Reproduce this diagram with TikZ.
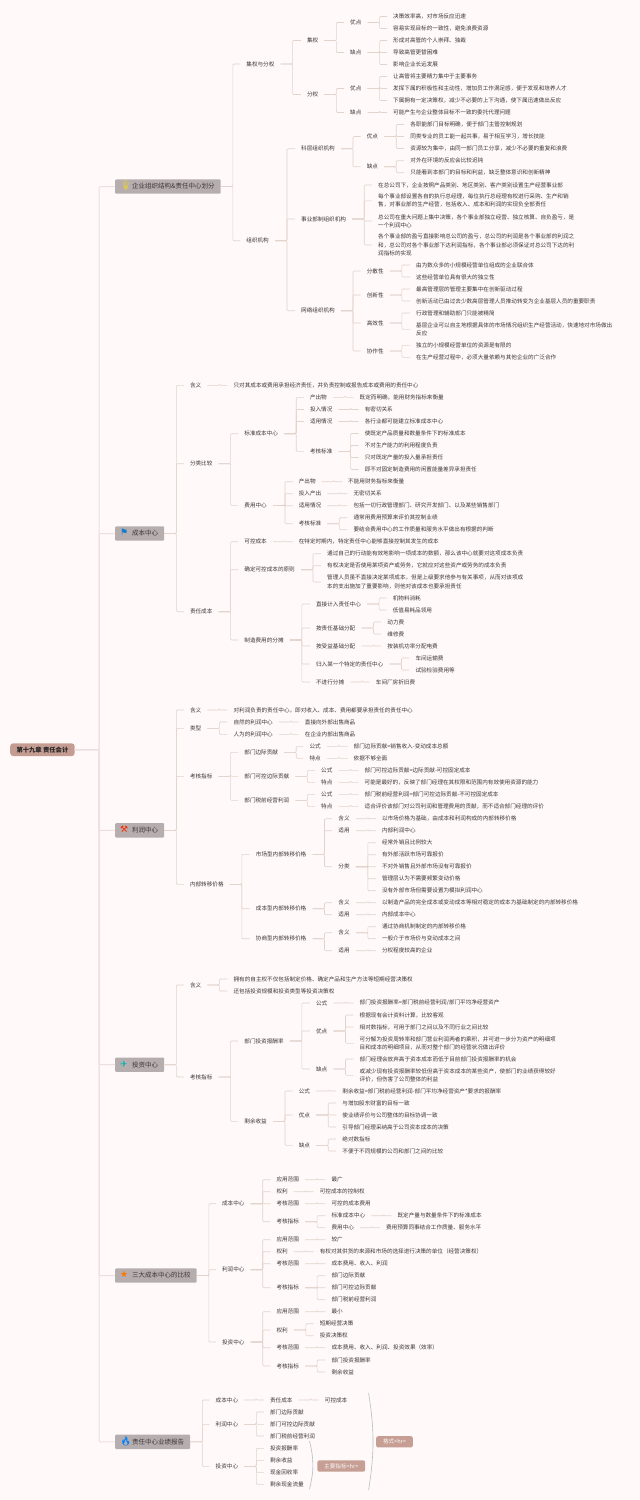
\documentclass[tikz,border=0pt]{standalone}
\usepackage{fontspec}
\setmainfont{Noto Sans CJK SC}
\newfontfamily\emojifont{Noto Emoji}
\newfontfamily\symfont{DejaVu Sans}
\definecolor{pagebg}{HTML}{FFF9FA}
\definecolor{inktext}{HTML}{3C3636}
\definecolor{linkline}{HTML}{E2D3CB}
\definecolor{rootline}{HTML}{EEDFDF}
\definecolor{branchfill}{HTML}{B6AEAE}
\definecolor{rootfill}{HTML}{C49C92}
\definecolor{tagfill}{HTML}{C69E94}
\definecolor{braceline}{HTML}{B4C0BC}
\tikzset{
  x=1pt,y=-1pt,
  item/.style={anchor=west,align=left,xshift=-6pt,inner xsep=6pt,inner ysep=0.5pt,text=inktext,font=\fontsize{5.6}{8.2}\selectfont},
  branch/.style={anchor=west,fill=branchfill,rounded corners=1pt,minimum height=14.4pt,inner xsep=6pt,inner ysep=0pt,text=inktext,font=\fontsize{6.5}{8}\selectfont},
  rootbox/.style={anchor=west,fill=rootfill,rounded corners=3pt,minimum height=12.8pt,inner xsep=6.3pt,inner ysep=0pt,text=black!85,font=\fontsize{6.3}{8}\selectfont\bfseries},
  tagbox/.style={anchor=west,fill=tagfill,rounded corners=2pt,minimum height=11.3pt,inner xsep=6.8pt,inner ysep=0pt,text=white!92!tagfill,font=\fontsize{5.6}{8}\selectfont},
  link/.style={draw=linkline,line width=0.6pt,rounded corners=1pt},
  rootlink/.style={draw=rootline,line width=1pt,rounded corners=1pt},
  summary/.style={draw=braceline,line width=0.6pt},
}
\newcommand{\lnk}[3][12]{\foreach \kid in {#3}{\draw[link] (#2.east) -- ++(#1,0) |- (\kid.west);}}
\newcommand{\icon}[2]{\makebox[11pt][l]{\smash{\hspace{-1pt}\color{#1}\fontsize{9}{9}\selectfont #2}}}

\begin{document}
\begin{tikzpicture}
  \fill[pagebg] (0,0) rectangle (640,1500);
  \node[rootbox] at (10,749.7) (root) {第十九章 责任会计};

  % organisation
  \node[branch] at (115,186.5) (ba) {\icon{yellow!80!orange}{\emojifont\symbol{"1F4A1}}企业组织结构\&责任中心划分};
  \node[item] at (246.2,64) (jfq) {集权与分权};
  \node[item] at (306.8,40.5) (jq) {集权};
  \node[item] at (306.8,94.5) (fq) {分权};
  \node[item] at (350,22.5) (jqy) {优点};
  \node[item] at (350,52.5) (jqq) {缺点};
  \node[item] at (393,16.5) (jqy1) {决策效率高，对市场反应迅速};
  \node[item] at (393,28.5) (jqy2) {容易实现目标的一致性，避免浪费资源};
  \node[item] at (393,40.5) (jqq1) {形成对高管的个人崇拜、独裁};
  \node[item] at (393,52.5) (jqq2) {导致高管更替困难};
  \node[item] at (393,64.5) (jqq3) {影响企业长远发展};
  \node[item] at (350,88.5) (fqy) {优点};
  \node[item] at (350,112.5) (fqq) {缺点};
  \node[item] at (393,76.5) (fqy1) {让高管将主要精力集中于主要事务};
  \node[item] at (393,88.5) (fqy2) {发挥下属的积极性和主动性，增加员工作满足感，便于发现和培养人才};
  \node[item] at (393,100.5) (fqy3) {下属拥有一定决策权，减少不必要的上下沟通，使下属迅速做出反应};
  \node[item] at (393,112.5) (fqq1) {可能产生与企业整体目标不一致的委托代理问题};
  \node[item] at (246.2,240.7) (org) {组织机构};
  \node[item] at (301,148.7) (kc) {科层组织机构};
  \node[item] at (366.6,136.5) (kcy) {优点};
  \node[item] at (366.6,166.7) (kcq) {缺点};
  \node[item] at (410.2,124.5) (kcy1) {各职能部门目标明确，便于部门主管控制规划};
  \node[item] at (410.2,136.5) (kcy2) {同类专业的员工能一起共事，易于相互学习，增长技能};
  \node[item] at (410.2,148.5) (kcy3) {资源较为集中，由同一部门员工分享，减少不必要的重复和浪费};
  \node[item] at (410.2,160.7) (kcq1) {对外在环境的反应会比较迟钝};
  \node[item] at (410.2,172.7) (kcq2) {只能看到本部门的目标和利益，缺乏整体意识和创新精神};
  \node[item] at (301,219) (sy) {事业部制组织机构};
  \node[item] at (378,185) (sy1) {在总公司下，企业按照产品类别、地区类别、客户类别设置生产经营事业部};
  \node[item] at (378,200.8) (sy2) {每个事业部设置各自的执行总经理，每位执行总经理有权进行采购、生产和销\\售，对事业部的生产经营，包括收入、成本和利润的实现负全部责任};
  \node[item] at (378,221) (sy3) {总公司在重大问题上集中决策，各个事业部独立经营、独立核算、自负盈亏，是\\一个利润中心};
  \node[item] at (378,245) (sy4) {各个事业部的盈亏直接影响总公司的盈亏，总公司的利润是各个事业部的利润之\\和，总公司对各个事业部下达利润指标，各个事业部必须保证对总公司下达的利\\润指标的实现};
  \node[item] at (301,310.7) (wl) {网络组织机构};
  \node[item] at (366.6,271) (wlf) {分散性};
  \node[item] at (366.6,295) (wlc) {创新性};
  \node[item] at (366.6,323) (wlg) {高效性};
  \node[item] at (366.6,351) (wlx) {协作性};
  \node[item] at (416,265) (wlf1) {由为数众多的小规模经营单位组成的企业联合体};
  \node[item] at (416,277) (wlf2) {这些经营单位具有很大的独立性};
  \node[item] at (416,289) (wlc1) {最高管理层的管理主要集中在创新驱动过程};
  \node[item] at (416,301) (wlc2) {创新活动已由过去少数高层管理人员推动转变为企业基层人员的重要职责};
  \node[item] at (416,313) (wlg1) {行政管理和辅助部门只能被精简};
  \node[item] at (416,329.3) (wlg2) {基层企业可以自主地根据具体的市场情况组织生产经营活动，快速地对市场做出\\反应};
  \node[item] at (416,345.3) (wlx1) {独立的小规模经营单位的资源是有限的};
  \node[item] at (416,357.3) (wlx2) {在生产经营过程中，必须大量依赖与其他企业的广泛合作};
  \lnk{ba}{jfq,org}
  \lnk{jfq}{jq,fq}
  \lnk{jq}{jqy,jqq}
  \lnk{jqy}{jqy1,jqy2}
  \lnk{jqq}{jqq1,jqq2,jqq3}
  \lnk{fq}{fqy,fqq}
  \lnk{fqy}{fqy1,fqy2,fqy3}
  \lnk{fqq}{fqq1}
  \lnk{org}{kc,sy,wl}
  \lnk{kc}{kcy,kcq}
  \lnk{kcy}{kcy1,kcy2,kcy3}
  \lnk{kcq}{kcq1,kcq2}
  \lnk{sy}{sy1,sy2,sy3,sy4}
  \lnk{wl}{wlf,wlc,wlg,wlx}
  \lnk{wlf}{wlf1,wlf2}
  \lnk{wlc}{wlc1,wlc2}
  \lnk{wlg}{wlg1,wlg2}
  \lnk{wlx}{wlx1,wlx2}

  % cost centre
  \node[branch] at (115,533.5) (bb) {\icon{cyan!60!blue}{\symfont\symbol{"2691}}成本中心};
  \node[item] at (189.8,385.3) (bhy) {含义};
  \node[item] at (233.4,385.3) (bhy1) {只对其成本或费用承担经济责任，并负责控制或报告成本或费用的责任中心};
  \node[item] at (189.8,463.7) (bfl) {分类比较};
  \node[item] at (244.2,433.7) (bz) {标准成本中心};
  \node[item] at (309.8,397.3) (bz1) {产出物};
  \node[item] at (359.5,397.3) (bz1a) {既定而明确，能用财务指标来衡量};
  \node[item] at (309.8,409.5) (bz2) {投入情况};
  \node[item] at (364.6,409.5) (bz2a) {有密切关系};
  \node[item] at (309.8,421.5) (bz3) {适用情况};
  \node[item] at (364.6,421.5) (bz3a) {各行业都可能建立标准成本中心};
  \node[item] at (309.8,451.3) (bz4) {考核标准};
  \node[item] at (364.6,433.5) (bz4a) {使既定产品质量和数量条件下的标准成本};
  \node[item] at (364.6,445.5) (bz4b) {不对生产能力的利用程度负责};
  \node[item] at (364.6,457.5) (bz4c) {只对既定产量的投入量承担责任};
  \node[item] at (364.6,469.5) (bz4d) {即不对固定制造费用的闲置能量差异承担责任};
  \node[item] at (244.2,505.3) (fy) {费用中心};
  \node[item] at (298.6,481.7) (fy1) {产出物};
  \node[item] at (348,481.7) (fy1a) {不能用财务指标来衡量};
  \node[item] at (298.6,493.7) (fy2) {投入产出};
  \node[item] at (353.4,493.7) (fy2a) {无密切关系};
  \node[item] at (298.6,505.7) (fy3) {适用情况};
  \node[item] at (353.4,505.7) (fy3a) {包括一切行政管理部门、研究开发部门、以及某些销售部门};
  \node[item] at (298.6,523.7) (fy4) {考核标准};
  \node[item] at (353.4,517.7) (fy4a) {通常用费用预算来评价其控制业绩};
  \node[item] at (353.4,529.7) (fy4b) {要结合费用中心的工作质量和服务水平做出有根据的判断};
  \node[item] at (189.8,611.7) (bzr) {责任成本};
  \node[item] at (244.2,541.7) (kk) {可控成本};
  \node[item] at (298.6,541.7) (kka) {在特定时期内，特定责任中心能够直接控制其发生的成本};
  \node[item] at (244.2,569.7) (qd) {确定可控成本的原则};
  \node[item] at (327,553.7) (qd1) {通过自己的行动能有效地影响一项成本的数额，那么该中心就要对这项成本负责};
  \node[item] at (327,565.7) (qd2) {有权决定是否使用某项资产或劳务，它就应对这些资产或劳务的成本负责};
  \node[item] at (327,582) (qd3) {管理人员虽不直接决定某项成本，但是上级要求他参与有关事项，从而对该项成\\本的支出施加了重要影响，则他对该成本也要承担责任};
  \node[item] at (244.2,640) (zf) {制造费用的分摊};
  \node[item] at (315.9,604) (zf1) {直接计入责任中心};
  \node[item] at (392.6,598) (zf1a) {机物料消耗};
  \node[item] at (392.6,610) (zf1b) {低值易耗品领用};
  \node[item] at (315.9,628) (zf2) {按责任基础分配};
  \node[item] at (387.2,622) (zf2a) {动力费};
  \node[item] at (387.2,634) (zf2b) {维修费};
  \node[item] at (315.9,646) (zf3) {按受益基础分配};
  \node[item] at (387.2,646) (zf3a) {按装机功率分配电费};
  \node[item] at (315.9,664) (zf4) {归入某一个特定的责任中心};
  \node[item] at (415.3,658) (zf4a) {车间运输费};
  \node[item] at (415.3,670) (zf4b) {试验检验费用等};
  \node[item] at (315.9,682) (zf5) {不进行分摊};
  \node[item] at (375.7,682) (zf5a) {车间厂房折旧费};
  \lnk{bb}{bhy,bfl,bzr}
  \lnk{bhy}{bhy1}
  \lnk{bfl}{bz,fy}
  \lnk{bz}{bz1,bz2,bz3,bz4}
  \lnk{bz1}{bz1a}
  \lnk{bz2}{bz2a}
  \lnk{bz3}{bz3a}
  \lnk{bz4}{bz4a,bz4b,bz4c,bz4d}
  \lnk{fy}{fy1,fy2,fy3,fy4}
  \lnk{fy1}{fy1a}
  \lnk{fy2}{fy2a}
  \lnk{fy3}{fy3a}
  \lnk{fy4}{fy4a,fy4b}
  \lnk{bzr}{kk,qd,zf}
  \lnk{kk}{kka}
  \lnk{qd}{qd1,qd2,qd3}
  \lnk{zf}{zf1,zf2,zf3,zf4,zf5}
  \lnk{zf1}{zf1a,zf1b}
  \lnk{zf2}{zf2a,zf2b}
  \lnk{zf3}{zf3a}
  \lnk{zf4}{zf4a,zf4b}
  \lnk{zf5}{zf5a}

  % profit centre
  \node[branch] at (115,830.3) (bc) {\icon{red!70!orange}{\symfont\symbol{"2692}}利润中心};
  \node[item] at (189.8,710) (chy) {含义};
  \node[item] at (233.4,710) (chya) {对利润负责的责任中心，即对收入、成本、费用都要承担责任的责任中心};
  \node[item] at (189.8,728.3) (clx) {类型};
  \node[item] at (233.4,722) (clx1) {自然的利润中心};
  \node[item] at (304.7,722) (clx1a) {直接向外部出售商品};
  \node[item] at (233.4,734.3) (clx2) {人为的利润中心};
  \node[item] at (304.7,734.3) (clx2a) {在企业内部出售商品};
  \node[item] at (189.8,776.3) (ckh) {考核指标};
  \node[item] at (244.2,752.3) (ck1) {部门边际贡献};
  \node[item] at (309.4,746.3) (ck1g) {公式};
  \node[item] at (353.5,746.3) (ck1ga) {部门边际贡献=销售收入-变动成本总额};
  \node[item] at (309.4,758.3) (ck1t) {特点};
  \node[item] at (353.5,758.3) (ck1ta) {依据不够全面};
  \node[item] at (244.2,776.3) (ck2) {部门可控边际贡献};
  \node[item] at (321,770.3) (ck2g) {公式};
  \node[item] at (364.5,770.3) (ck2ga) {部门可控边际贡献=边际贡献-可控固定成本};
  \node[item] at (321,782.3) (ck2t) {特点};
  \node[item] at (364.5,782.3) (ck2ta) {可能是最好的，反映了部门经理在其权限和范围内有效使用资源的能力};
  \node[item] at (244.2,800.3) (ck3) {部门税前经营利润};
  \node[item] at (321,794.3) (ck3g) {公式};
  \node[item] at (364.5,794.3) (ck3ga) {部门税前经营利润=部门可控边际贡献-不可控固定成本};
  \node[item] at (321,806.3) (ck3t) {特点};
  \node[item] at (364.5,806.3) (ck3ta) {适合评价该部门对公司利润和管理费用的贡献，而不适合部门经理的评价};
  \node[item] at (189.8,884.3) (cnb) {内部转移价格};
  \node[item] at (255.7,854.3) (sc) {市场型内部转移价格};
  \node[item] at (338.2,818.7) (sch) {含义};
  \node[item] at (381.8,818.7) (scha) {以市场价格为基础，由成本和利润构成的内部转移价格};
  \node[item] at (338.2,830.7) (scs) {适用};
  \node[item] at (381.8,830.7) (scsa) {内部利润中心};
  \node[item] at (338.2,866.7) (scf) {分类};
  \node[item] at (381.8,842.7) (scf1) {经常外销且比例较大};
  \node[item] at (381.8,854.7) (scf2) {有外部活跃市场可靠报价};
  \node[item] at (381.8,866.7) (scf3) {不对外销售且外部市场没有可靠报价};
  \node[item] at (381.8,878.7) (scf4) {管理层认为不需要频繁变动价格};
  \node[item] at (381.8,890.7) (scf5) {没有外部市场但需要设置为模拟利润中心};
  \node[item] at (255.7,908.7) (cb) {成本型内部转移价格};
  \node[item] at (338.2,902.7) (cbh) {含义};
  \node[item] at (381.8,902.7) (cbha) {以制造产品的完全成本或变动成本等相对稳定的成本为基础制定的内部转移价格};
  \node[item] at (338.2,914.7) (cbs) {适用};
  \node[item] at (381.8,914.7) (cbsa) {内部成本中心};
  \node[item] at (255.7,938.7) (xs) {协商型内部转移价格};
  \node[item] at (338.2,932.7) (xsh) {含义};
  \node[item] at (381.8,926.7) (xsh1) {通过协商机制制定的内部转移价格};
  \node[item] at (381.8,938.7) (xsh2) {一般介于市场价与变动成本之间};
  \node[item] at (338.2,950.7) (xss) {适用};
  \node[item] at (381.8,950.7) (xssa) {分权程度较高的企业};
  \lnk{bc}{chy,clx,ckh,cnb}
  \lnk{chy}{chya}
  \lnk{clx}{clx1,clx2}
  \lnk{clx1}{clx1a}
  \lnk{clx2}{clx2a}
  \lnk{ckh}{ck1,ck2,ck3}
  \lnk{ck1}{ck1g,ck1t}
  \lnk{ck1g}{ck1ga}
  \lnk{ck1t}{ck1ta}
  \lnk{ck2}{ck2g,ck2t}
  \lnk{ck2g}{ck2ga}
  \lnk{ck2t}{ck2ta}
  \lnk{ck3}{ck3g,ck3t}
  \lnk{ck3g}{ck3ga}
  \lnk{ck3t}{ck3ta}
  \lnk{cnb}{sc,cb,xs}
  \lnk{sc}{sch,scs,scf}
  \lnk{sch}{scha}
  \lnk{scs}{scsa}
  \lnk{scf}{scf1,scf2,scf3,scf4,scf5}
  \lnk{cb}{cbh,cbs}
  \lnk{cbh}{cbha}
  \lnk{cbs}{cbsa}
  \lnk{xs}{xsh,xss}
  \lnk{xsh}{xsh1,xsh2}
  \lnk{xss}{xssa}

  % investment centre
  \node[branch] at (115,1064.7) (bd) {\icon{teal!60!cyan}{\symfont\symbol{"2708}}投资中心};
  \node[item] at (189.8,985) (dhy) {含义};
  \node[item] at (233.4,979) (dhy1) {拥有的自主权不仅包括制定价格、确定产品和生产方法等短期经营决策权};
  \node[item] at (233.4,991) (dhy2) {还包括投资规模和投资类型等投资决策权};
  \node[item] at (189.8,1077) (dkh) {考核指标};
  \node[item] at (244.2,1041) (tz) {部门投资报酬率};
  \node[item] at (315.9,1003) (tzg) {公式};
  \node[item] at (359.5,1003) (tzga) {部门投资报酬率=部门税前经营利润/部门平均净经营资产};
  \node[item] at (315.9,1031) (tzy) {优点};
  \node[item] at (359.5,1015) (tzy1) {根据现有会计资料计算，比较客观};
  \node[item] at (359.5,1027) (tzy2) {相对数指标，可用于部门之间以及不同行业之间比较};
  \node[item] at (359.5,1043.3) (tzy3) {可分解为投资周转率和部门营业利润两者的乘积，并可进一步分为资产的明细项\\目和成本的明细项目，从而对整个部门的经营状况做出评价};
  \node[item] at (315.9,1069) (tzq) {缺点};
  \node[item] at (359.5,1059) (tzq1) {部门经理会放弃高于资本成本而低于目前部门投资报酬率的机会};
  \node[item] at (359.5,1075.3) (tzq2) {或减少现有投资报酬率较低但高于资本成本的某些资产，使部门的业绩获得较好\\评价，但伤害了公司整体的利益};
  \node[item] at (244.2,1121.3) (ry) {剩余收益};
  \node[item] at (298.6,1091) (ryg) {公式};
  \node[item] at (342.2,1091) (ryga) {剩余收益=部门税前经营利润-部门平均净经营资产*要求的报酬率};
  \node[item] at (298.6,1115) (ryy) {优点};
  \node[item] at (342.2,1103) (ryy1) {与增加股东财富的目标一致};
  \node[item] at (342.2,1115) (ryy2) {使业绩评价与公司整体的目标协调一致};
  \node[item] at (342.2,1127) (ryy3) {引导部门经理采纳高于公司资本成本的决策};
  \node[item] at (298.6,1145.3) (ryq) {缺点};
  \node[item] at (342.2,1139) (ryq1) {绝对数指标};
  \node[item] at (342.2,1151) (ryq2) {不便于不同规模的公司和部门之间的比较};
  \lnk{bd}{dhy,dkh}
  \lnk{dhy}{dhy1,dhy2}
  \lnk{dkh}{tz,ry}
  \lnk{tz}{tzg,tzy,tzq}
  \lnk{tzg}{tzga}
  \lnk{tzy}{tzy1,tzy2,tzy3}
  \lnk{tzq}{tzq1,tzq2}
  \lnk{ry}{ryg,ryy,ryq}
  \lnk{ryg}{ryga}
  \lnk{ryy}{ryy1,ryy2,ryy3}
  \lnk{ryq}{ryq1,ryq2}

  % comparison
  \node[branch] at (115,1275.5) (be) {\icon{orange!90!red}{\symfont\symbol{"2605}}三大成本中心的比较};
  \node[item] at (221.9,1203.7) (ec) {成本中心};
  \node[item] at (276.3,1179.7) (ec1) {应用范围};
  \node[item] at (331.4,1179.7) (ec1a) {最广};
  \node[item] at (276.3,1191.7) (ec2) {权利};
  \node[item] at (319.6,1191.7) (ec2a) {可控成本的控制权};
  \node[item] at (276.3,1203.7) (ec3) {考核范围};
  \node[item] at (331.4,1203.7) (ec3a) {可控的成本费用};
  \node[item] at (276.3,1221.7) (ec4) {考核指标};
  \node[item] at (331.4,1215.7) (ec4a) {标准成本中心};
  \node[item] at (397.4,1215.7) (ec4aa) {既定产量与数量条件下的标准成本};
  \node[item] at (331.4,1227.7) (ec4b) {费用中心};
  \node[item] at (385.9,1227.7) (ec4ba) {费用预算同事结合工作质量、服务水平};
  \node[item] at (221.9,1269.7) (el) {利润中心};
  \node[item] at (276.3,1239.7) (el1) {应用范围};
  \node[item] at (331.4,1239.7) (el1a) {较广};
  \node[item] at (276.3,1251.7) (el2) {权利};
  \node[item] at (319.6,1251.7) (el2a) {有权对其供货的来源和市场的选择进行决策的单位（经营决策权）};
  \node[item] at (276.3,1263.7) (el3) {考核范围};
  \node[item] at (331.4,1263.7) (el3a) {成本费用、收入、利润};
  \node[item] at (276.3,1287.7) (el4) {考核指标};
  \node[item] at (331.4,1275.7) (el4a) {部门边际贡献};
  \node[item] at (331.4,1287.7) (el4b) {部门可控边际贡献};
  \node[item] at (331.4,1299.7) (el4c) {部门税前经营利润};
  \node[item] at (221.9,1342) (et) {投资中心};
  \node[item] at (276.3,1311.7) (et1) {应用范围};
  \node[item] at (331.4,1311.7) (et1a) {最小};
  \node[item] at (276.3,1330) (et2) {权利};
  \node[item] at (319.6,1323.7) (et2a) {短期经营决策};
  \node[item] at (319.6,1335.7) (et2b) {投资决策权};
  \node[item] at (276.3,1347.7) (et3) {考核范围};
  \node[item] at (331.4,1347.7) (et3a) {成本费用、收入、利润、投资效果（效率）};
  \node[item] at (276.3,1366) (et4) {考核指标};
  \node[item] at (331.4,1360) (et4a) {部门投资报酬率};
  \node[item] at (331.4,1372) (et4b) {剩余收益};
  \lnk{be}{ec,el,et}
  \lnk{ec}{ec1,ec2,ec3,ec4}
  \lnk{ec1}{ec1a}
  \lnk{ec2}{ec2a}
  \lnk{ec3}{ec3a}
  \lnk{ec4}{ec4a,ec4b}
  \lnk{ec4a}{ec4aa}
  \lnk{ec4b}{ec4ba}
  \lnk{el}{el1,el2,el3,el4}
  \lnk{el1}{el1a}
  \lnk{el2}{el2a}
  \lnk{el3}{el3a}
  \lnk{el4}{el4a,el4b,el4c}
  \lnk{et}{et1,et2,et3,et4}
  \lnk{et1}{et1a}
  \lnk{et2}{et2a,et2b}
  \lnk{et3}{et3a}
  \lnk{et4}{et4a,et4b}

  % report
  \node[branch] at (115,1441.8) (bf) {\icon{blue!50!cyan}{\emojifont\symbol{"1F525}}责任中心业绩报告};
  \node[item] at (215.5,1400) (fc) {成本中心};
  \node[item] at (269.9,1400) (fc1) {责任成本};
  \node[item] at (324.7,1400) (fc1a) {可控成本};
  \node[item] at (215.5,1424.3) (fl) {利润中心};
  \node[item] at (269.9,1412) (fl1) {部门边际贡献};
  \node[item] at (269.9,1424.3) (fl2) {部门可控边际贡献};
  \node[item] at (269.9,1436) (fl3) {部门税前经营利润};
  \node[item] at (215.5,1466.3) (ft) {投资中心};
  \node[item] at (269.9,1448.3) (ft1) {投资报酬率};
  \node[item] at (269.9,1460.3) (ft2) {剩余收益};
  \node[item] at (269.9,1472.3) (ft3) {现金回收率};
  \node[item] at (269.9,1484.3) (ft4) {剩余现金流量};
  \node[tagbox] at (317.2,1466) (zb) {主要指标<hr>};
  \node[tagbox] at (376,1441.8) (gs) {格式<hr>};
  \coordinate (zbtop) at (309.5,1441);
  \coordinate (zbbot) at (309.5,1489);
  \coordinate (gstop) at (368.6,1393);
  \coordinate (gsbot) at (368.6,1490);
  \draw[summary] (zbtop) to[bend left=14] (zbbot);
  \draw[summary] (gstop) to[bend left=9] (gsbot);
  \lnk{bf}{fc,fl,ft}
  \lnk{fc}{fc1}
  \lnk{fc1}{fc1a}
  \lnk{fl}{fl1,fl2,fl3}
  \lnk{ft}{ft1,ft2,ft3,ft4}

  % root links
  \foreach \kid in {ba,bb,bc,bd,be,bf}{\draw[rootlink] (root.east) -- ++(24.3,0) |- (\kid.west);}
\end{tikzpicture}
\end{document}
